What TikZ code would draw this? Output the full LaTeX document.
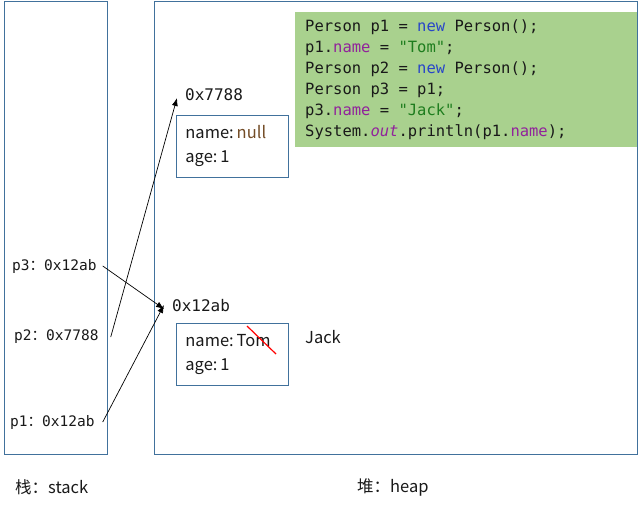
\documentclass[tikz,border=0pt]{standalone}
\usepackage{fontspec}
\setmainfont{Noto Sans CJK SC}
\setmonofont{DejaVu Sans Mono}
\newfontfamily\cjk{Noto Sans CJK SC}
\usetikzlibrary{arrows.meta}

\definecolor{boxline}{RGB}{65,113,156}
\definecolor{codebg}{RGB}{169,209,142}
\definecolor{kwblue}{RGB}{40,70,200}
\definecolor{fieldpurple}{RGB}{145,35,155}
\definecolor{strgreen}{RGB}{30,125,30}
\definecolor{txt}{RGB}{25,25,25}

\newcommand{\kw}[1]{\textcolor{kwblue}{#1}}
\newcommand{\fld}[1]{\textcolor{fieldpurple}{#1}}
\newcommand{\str}[1]{\textcolor{strgreen}{#1}}
\newcommand{\gap}{\hspace{0.18em}}
\newcommand{\sk}{\hphantom{0}} % one full code cell
\newcommand{\codefont}{\ttfamily\fontsize{15.5}{21}\selectfont}

\begin{document}
\begin{tikzpicture}[x=1pt, y=-1pt,
    region/.style={draw=boxline, line width=0.8pt},
    objbox/.style={draw=boxline, line width=0.8pt, text=txt, align=left,
        minimum width=112pt, minimum height=62pt, inner xsep=9pt,
        text width=94pt, font=\fontsize{16.5}{24}\selectfont},
    addr/.style={text=txt, inner sep=2pt, font=\ttfamily\fontsize{16}{20}\selectfont},
    var/.style={text=txt, inner sep=2pt, font=\ttfamily\fontsize{14.5}{18}\selectfont},
    caption/.style={text=txt, inner sep=0pt, font=\fontsize{16.5}{20}\selectfont},
    ptr/.style={-{Latex[length=8pt,width=6pt]}, line width=0.7pt}]
    \useasboundingbox (0,0) rectangle (639,509);

    % stack and heap
    \draw[region] (4,1) rectangle (107,454);
    \draw[region] (154,1) rectangle (637,454);

    % the code
    \node (code) [fill=codebg, anchor=north west, minimum width=342pt, minimum height=135pt,
        inner xsep=10pt, text width=322pt, align=left, text=txt,
        font=\codefont] at (295,12)
        {Person\sk p1\sk=\sk\kw{new}\sk Person();\\
         p1.\fld{name}\sk=\sk\str{"Tom"};\\
         Person\sk p2\sk=\sk\kw{new}\sk Person();\\
         Person\sk p3\sk=\sk p1;\\
         p3.\fld{name}\sk=\sk\str{"Jack"};\\
         System.\fld{\textit{out}}.println(p1.\fld{name});};

    % objects on the heap
    \node (a77) [addr, anchor=west] at (183,95) {0x7788};
    \node (obj1) [objbox, anchor=north west] at (176,115)
        {name:\gap\textcolor{brown!60!black}{null}\\age:\gap 1};
    \node (a12) [addr, anchor=west] at (170,306) {0x12ab};
    \node (obj2) [objbox, anchor=north west] at (176,323)
        {name:\gap Tom\\age:\gap 1};
    \node (jack) [caption, anchor=west] at (305,337) {Jack};
    \draw[red, line width=1.2pt] (247,326) -- (276,354);

    % variables on the stack
    \node (p3) [var, anchor=west] at (10,266) {p3{\cjk ：}0x12ab};
    \node (p2) [var, anchor=west] at (12,337) {p2{\cjk ：}0x7788};
    \node (p1) [var, anchor=west] at (8,422) {p1{\cjk ：}0x12ab};

    \draw[ptr] ([xshift=4pt]p3.east) -- ([xshift=-6pt, yshift=-3pt]a12.west);
    \draw[ptr] ([xshift=10pt]p2.east) -- ([xshift=-6pt, yshift=-3pt]a77.west);
    \draw[ptr] ([xshift=6pt]p1.east) -- ([xshift=-6pt, yshift=1pt]a12.west);

    % captions
    \node (stk) [caption, anchor=west] at (15,487) {栈：stack};
    \node (hp) [caption, anchor=west] at (357,487) {堆：heap};
\end{tikzpicture}
\end{document}
